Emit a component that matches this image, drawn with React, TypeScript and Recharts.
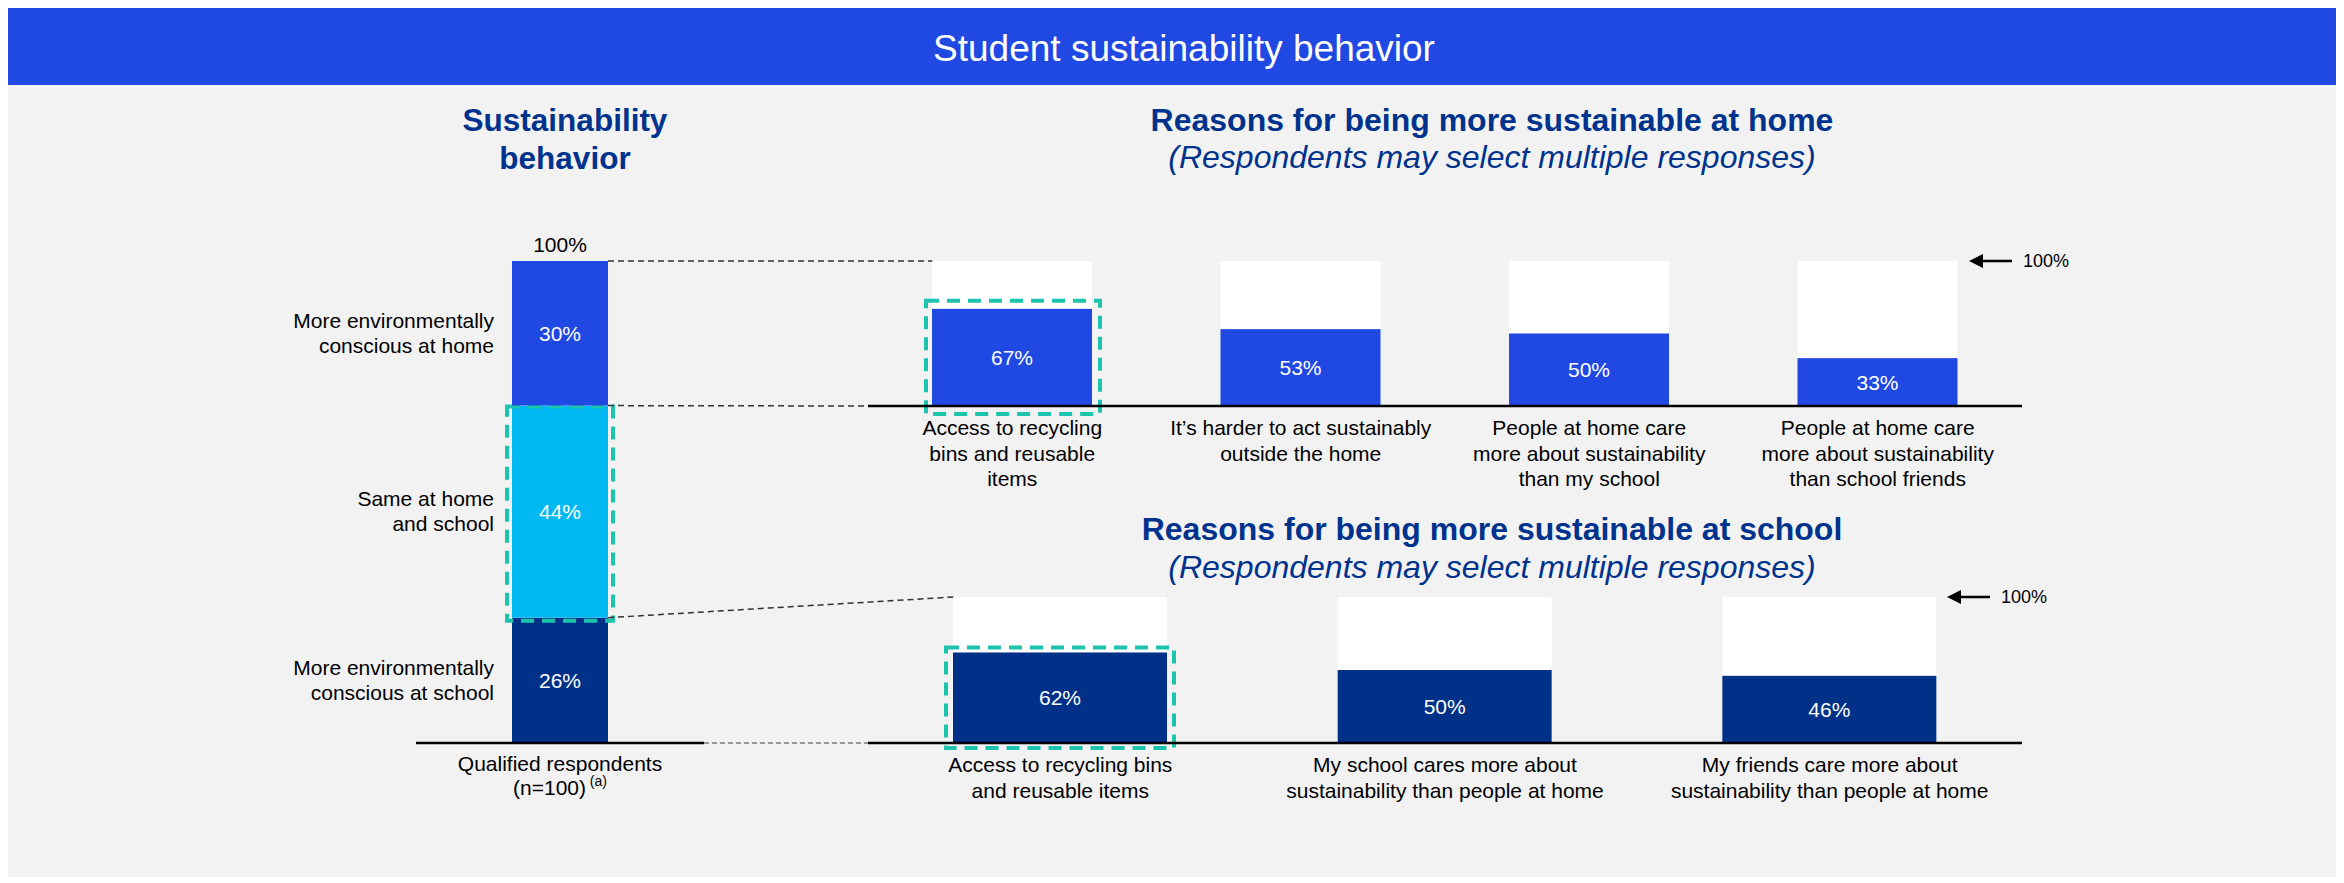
import React from "react";
import { BarChart, Bar, XAxis, YAxis, LabelList, ReferenceLine } from "recharts";

const FONT = "'Liberation Sans', Arial, sans-serif";
const BLUE = "#1f49e2";
const SKY = "#00b9f2";
const NAVY = "#003189";
const TITLE = "#00338d";
const TEAL = "#1cc4ae";
const BG = "#f2f2f2";

// ---- data ----
const pageTitle = "Student sustainability behavior";
const behaviorTitle = ["Sustainability", "behavior"];
const behaviorCategory = "Qualified respondents\n(n=100)";
const behaviorNote = "(a)";
const behaviorSegments = [
  "More environmentally\nconscious at school",
  "Same at home\nand school",
  "More environmentally\nconscious at home",
];
const behaviorValues = [26, 44, 30];

const homeTitle = "Reasons for being more sustainable at home";
const schoolTitle = "Reasons for being more sustainable at school";
const subTitle = "(Respondents may select multiple responses)";
const homeReasons = [
  "Access to recycling\nbins and reusable\nitems",
  "It’s harder to act sustainably\noutside the home",
  "People at home care\nmore about sustainability\nthan my school",
  "People at home care\nmore about sustainability\nthan school friends",
];
const homeValues = [67, 53, 50, 33];
const schoolReasons = [
  "Access to recycling bins\nand reusable items",
  "My school cares more about\nsustainability than people at home",
  "My friends care more about\nsustainability than people at home",
];
const schoolValues = [62, 50, 46];
const fullScale = 100;

// ---- layout ----
const W = 2336;
const H = 869;
const LEFT = { x: 408, top: 253, bottom: 735, w: 288, bar: 96, ml: 158, mt: 33, mr: 10, axis: 70 };
const HOME = { x: 860, top: 253, bottom: 398, w: 1154, bar: 160, ml: 60, mt: 50, mr: 70, axis: 100 };
const SCHOOL = { x: 860, top: 589, bottom: 735, w: 1154, bar: 214, ml: 60, mt: 40, mr: 70, axis: 75 };

const behaviorData = [
  {
    name: behaviorCategory,
    school: behaviorValues[0],
    same: behaviorValues[1],
    home: behaviorValues[2],
  },
];
const homeData = homeReasons.map((name, i) => ({ name, value: homeValues[i] }));
const schoolData = schoolReasons.map((name, i) => ({ name, value: schoolValues[i] }));
const behaviorTotal = behaviorValues.reduce((a, b) => a + b, 0);

const box = (p: any) => p.viewBox ?? p;

function MultiTick(props: any) {
  const { x, y, payload, first, lh, note } = props;
  const lines = String(payload.value).split("\n");
  return (
    <text x={x} y={y} textAnchor="middle" fontSize={21} fill="#000">
      {lines.map((l, i) => (
        <tspan key={i} x={x} dy={i === 0 ? first : lh}>
          {l}
        </tspan>
      ))}
      {note && (
        <tspan fontSize={14} dy={-9}>
          {" " + note}
        </tspan>
      )}
    </text>
  );
}

function SideLabel(props: any) {
  const { x, y, height } = box(props);
  const lines = String(props.text).split("\n");
  const lh = 25;
  const start = y + height / 2 - ((lines.length - 1) * lh) / 2 + 7;
  return (
    <text x={x - 18} y={start} textAnchor="end" fontSize={21} fill="#000">
      {lines.map((l, i) => (
        <tspan key={i} x={x - 18} dy={i === 0 ? 0 : lh}>
          {l}
        </tspan>
      ))}
    </text>
  );
}

function TotalLabel(props: any) {
  const { x, y, width } = box(props);
  return (
    <text x={x + width / 2} y={y - 9} textAnchor="middle" fontSize={21} fill="#000">
      {`${behaviorTotal}%`}
    </text>
  );
}

function FullMark(props: any) {
  const { x, y, width } = box(props);
  const end = x + width - props.gap;
  const start = end - 43;
  return (
    <g>
      <line x1={start + 10} y1={y} x2={end} y2={y} stroke="#000" strokeWidth={2.5} />
      <polygon points={`${start},${y} ${start + 14},${y - 7} ${start + 14},${y + 7}`} fill="#000" />
      <text x={end + 11} y={y + 6} fontSize={18} fill="#000">
        {`${fullScale}%`}
      </text>
    </g>
  );
}

function highlightShape(pad: { l: number; r: number; t: number; b: number }) {
  return (props: any) => {
    const { x, y, width, height, fill, index } = props;
    return (
      <g>
        <rect x={x} y={y} width={width} height={height} fill={fill} />
        {index === 0 && (
          <rect
            x={x - pad.l}
            y={y - pad.t}
            width={width + pad.l + pad.r}
            height={height + pad.t + pad.b}
            fill="none"
            stroke={TEAL}
            strokeWidth={4}
            strokeDasharray="13 8"
          />
        )}
      </g>
    );
  };
}

const pct = (v: any) => `${v}%`;

function chartBox(L: typeof LEFT) {
  return {
    left: L.x - L.ml,
    top: L.top - L.mt,
    width: L.ml + L.w + L.mr,
    height: L.mt + (L.bottom - L.top) + L.axis,
  };
}

function ReasonChart({ L, data, color, gap, pad }: any) {
  const b = chartBox(L);
  return (
    <div style={{ position: "absolute", left: b.left, top: b.top }}>
      <BarChart
        width={b.width}
        height={b.height}
        data={data}
        margin={{ top: L.mt, right: L.mr, bottom: 0, left: L.ml }}
      >
        <XAxis
          dataKey="name"
          interval={0}
          height={L.axis}
          tickLine={false}
          tickSize={0}
          tickMargin={0}
          axisLine={{ stroke: "#000", strokeWidth: 2.5 }}
          tick={(p: any) => <MultiTick {...p} first={29} lh={25.5} />}
        />
        <YAxis hide domain={[0, fullScale]} />
        <ReferenceLine y={fullScale} stroke="none" label={(p: any) => <FullMark {...p} gap={gap} />} />
        <Bar
          dataKey="value"
          fill={color}
          barSize={L.bar}
          background={{ fill: "#ffffff" }}
          shape={highlightShape(pad)}
          isAnimationActive={false}
        >
          <LabelList dataKey="value" position="center" fill="#fff" fontSize={21} formatter={pct} />
        </Bar>
      </BarChart>
    </div>
  );
}

export default function App() {
  const lb = chartBox(LEFT);
  const leftH = LEFT.bottom - LEFT.top;
  const leftY = (v: number) => LEFT.bottom - (v / fullScale) * leftH;
  const leftBarRight = LEFT.x + LEFT.w / 2 + LEFT.bar / 2;
  const homeBarLeft = HOME.x + HOME.w / homeValues.length / 2 - HOME.bar / 2;
  const schoolBarLeft = SCHOOL.x + SCHOOL.w / schoolValues.length / 2 - SCHOOL.bar / 2;
  const schoolTop = behaviorValues[0];
  const sameTop = behaviorValues[0] + behaviorValues[1];

  return (
    <div
      style={{
        position: "relative",
        width: W,
        height: H,
        background: BG,
        fontFamily: FONT,
        overflow: "hidden",
      }}
    >
      <div style={{ position: "absolute", left: 0, top: 0, width: W, height: 77, background: BLUE }} />

      <div style={{ position: "absolute", left: lb.left, top: lb.top }}>
        <BarChart
          width={lb.width}
          height={lb.height}
          data={behaviorData}
          margin={{ top: LEFT.mt, right: LEFT.mr, bottom: 0, left: LEFT.ml }}
        >
          <XAxis
            dataKey="name"
            interval={0}
            height={LEFT.axis}
            tickLine={false}
            tickSize={0}
            tickMargin={0}
            axisLine={{ stroke: "#000", strokeWidth: 2.5 }}
            tick={(p: any) => <MultiTick {...p} first={28} lh={24} note={behaviorNote} />}
          />
          <YAxis hide domain={[0, fullScale]} />
          <Bar dataKey="school" stackId="s" fill={NAVY} barSize={LEFT.bar} isAnimationActive={false}>
            <LabelList dataKey="school" position="center" fill="#fff" fontSize={21} formatter={pct} />
            <LabelList dataKey="school" content={(p: any) => <SideLabel {...p} text={behaviorSegments[0]} />} />
          </Bar>
          <Bar
            dataKey="same"
            stackId="s"
            fill={SKY}
            barSize={LEFT.bar}
            shape={highlightShape({ l: 5, r: 5, t: -1, b: 3 })}
            isAnimationActive={false}
          >
            <LabelList dataKey="same" position="center" fill="#fff" fontSize={21} formatter={pct} />
            <LabelList dataKey="same" content={(p: any) => <SideLabel {...p} text={behaviorSegments[1]} />} />
          </Bar>
          <Bar dataKey="home" stackId="s" fill={BLUE} barSize={LEFT.bar} isAnimationActive={false}>
            <LabelList dataKey="home" position="center" fill="#fff" fontSize={21} formatter={pct} />
            <LabelList dataKey="home" content={(p: any) => <SideLabel {...p} text={behaviorSegments[2]} />} />
            <LabelList dataKey="home" content={(p: any) => <TotalLabel {...p} />} />
          </Bar>
        </BarChart>
      </div>

      <ReasonChart L={HOME} data={homeData} color={BLUE} gap={10} pad={{ l: 6, r: 8, t: 8, b: 8 }} />
      <ReasonChart L={SCHOOL} data={schoolData} color={NAVY} gap={32} pad={{ l: 7, r: 7, t: 5, b: 5 }} />

      <svg
        width={W}
        height={H}
        style={{ position: "absolute", left: 0, top: 0, pointerEvents: "none" }}
      >
        <text x={1176} y={53} textAnchor="middle" fontSize={37} fill="#fff">
          {pageTitle}
        </text>
        <text x={557} textAnchor="middle" fontSize={31.5} fontWeight="bold" fill={TITLE}>
          <tspan x={557} y={123}>{behaviorTitle[0]}</tspan>
          <tspan x={557} y={161}>{behaviorTitle[1]}</tspan>
        </text>
        <text x={1484} y={123} textAnchor="middle" fontSize={32} fontWeight="bold" fill={TITLE}>
          {homeTitle}
        </text>
        <text x={1484} y={160} textAnchor="middle" fontSize={32} fontStyle="italic" fill={TITLE}>
          {subTitle}
        </text>
        <text x={1484} y={532} textAnchor="middle" fontSize={32} fontWeight="bold" fill={TITLE}>
          {schoolTitle}
        </text>
        <text x={1484} y={570} textAnchor="middle" fontSize={32} fontStyle="italic" fill={TITLE}>
          {subTitle}
        </text>

        <g stroke="#333" strokeWidth={1.5} strokeDasharray="6 4" fill="none">
          <line x1={leftBarRight} y1={LEFT.top} x2={homeBarLeft} y2={HOME.top} />
          <line x1={leftBarRight} y1={leftY(sameTop)} x2={HOME.x} y2={HOME.bottom} />
          <line x1={leftBarRight} y1={leftY(schoolTop)} x2={schoolBarLeft} y2={SCHOOL.top} />
        </g>
        <line
          x1={LEFT.x + LEFT.w}
          y1={LEFT.bottom}
          x2={SCHOOL.x}
          y2={SCHOOL.bottom}
          stroke="#999"
          strokeWidth={2}
          strokeDasharray="5 3"
        />
      </svg>
    </div>
  );
}
